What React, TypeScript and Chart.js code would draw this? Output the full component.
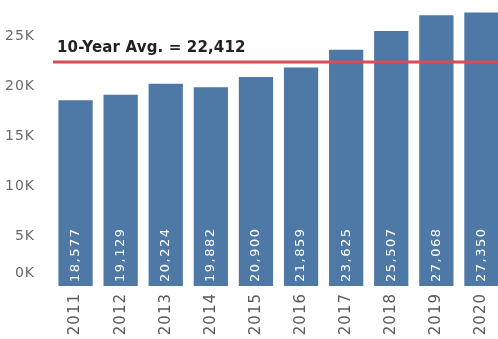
import React, { useEffect, useRef } from "react";
import { Chart, registerables } from "chart.js";

Chart.register(...registerables);

const years = ["2011", "2012", "2013", "2014", "2015", "2016", "2017", "2018", "2019", "2020"];
const totals = [18577, 19129, 20224, 19882, 20900, 21859, 23625, 25507, 27068, 27350];
const averageValue = 22412;
const averageLabel = "10-Year Avg. = 22,412";
const yTicks = [0, 5000, 10000, 15000, 20000, 25000];
const yMax = 28500;

const FONT = "'DejaVu Sans', Verdana, sans-serif";

const fmt = (v: number) => v.toLocaleString("en-US");

const overlayPlugin = {
  id: "overlay",
  beforeDraw(chart: any) {
    chart.ctx.letterSpacing = "1px";
    const ys = chart.scales.y;
    const items = ys.getLabelItems();
    items.forEach((it: any) => {
      if (it.label === "0K" && !it._shifted) {
        it.options.translation[1] -= 13;
        it._shifted = true;
      }
    });
  },
  afterDatasetsDraw(chart: any) {
    const ctx = chart.ctx;
    const meta = chart.getDatasetMeta(0);
    const y = chart.scales.y;
    ctx.save();
    ctx.fillStyle = "#ffffff";
    ctx.font = `13px ${FONT}`;
    ctx.letterSpacing = "1.5px";
    ctx.textAlign = "left";
    ctx.textBaseline = "middle";
    meta.data.forEach((bar: any, i: number) => {
      ctx.save();
      ctx.translate(bar.x, bar.base - 4);
      ctx.rotate(-Math.PI / 2);
      ctx.fillText(fmt(totals[i]), 0, 0);
      ctx.restore();
    });
    const py = y.getPixelForValue(averageValue);
    ctx.strokeStyle = "#e04a55";
    ctx.lineWidth = 3;
    ctx.beginPath();
    ctx.moveTo(chart.chartArea.left, py);
    ctx.lineTo(chart.width, py);
    ctx.stroke();
    ctx.fillStyle = "#222222";
    ctx.font = `bold 15px ${FONT}`;
    ctx.letterSpacing = "0.15px";
    ctx.textAlign = "left";
    ctx.textBaseline = "alphabetic";
    ctx.fillText(averageLabel, chart.chartArea.left + 4, py - 10);
    ctx.restore();
  },
};

export default function App() {
  const ref = useRef<HTMLCanvasElement>(null);
  useEffect(() => {
    if (!ref.current) return;
    const chart = new Chart(ref.current, {
      type: "bar",
      data: {
        labels: years,
        datasets: [
          {
            data: totals,
            backgroundColor: "#4e79a7",
            categoryPercentage: 1,
            barPercentage: 0.76,
          },
        ],
      },
      options: {
        responsive: false,
        animation: false,
        devicePixelRatio: 1,
        layout: { padding: { top: 1, right: 0, left: 0, bottom: 0 } },
        plugins: { legend: { display: false }, tooltip: { enabled: false } },
        scales: {
          x: {
            grid: { display: false },
            border: { display: false },
            ticks: {
              minRotation: 90,
              maxRotation: 90,
              autoSkip: false,
              padding: -1,
              color: "#5a5a5a",
              font: { family: FONT, size: 15 },
            },
            afterFit: (s: any) => {
              s.height = 53;
              s.paddingLeft = 0;
              s.paddingRight = 0;
            },
          },
          y: {
            min: 0,
            max: yMax,
            grid: { display: false },
            border: { display: false },
            afterBuildTicks: (s: any) => {
              s.ticks = yTicks.map((v) => ({ value: v }));
            },
            ticks: {
              autoSkip: false,
              padding: 10,
              color: "#6a6a6a",
              font: { family: FONT, size: 14 },
              callback: (v: any) => Number(v) / 1000 + "K",
            },
            afterFit: (s: any) => {
              s.width = 53;
              s.paddingTop = 0;
              s.paddingBottom = 0;
            },
          },
        },
      } as any,
      plugins: [overlayPlugin],
    });
    return () => chart.destroy();
  }, []);
  return (
    <div style={{ position: "absolute", left: 0, top: 0, width: 498, height: 339, overflow: "hidden", background: "#fff" }}>
      <canvas ref={ref} width={504} height={339} style={{ display: "block" }} />
    </div>
  );
}
